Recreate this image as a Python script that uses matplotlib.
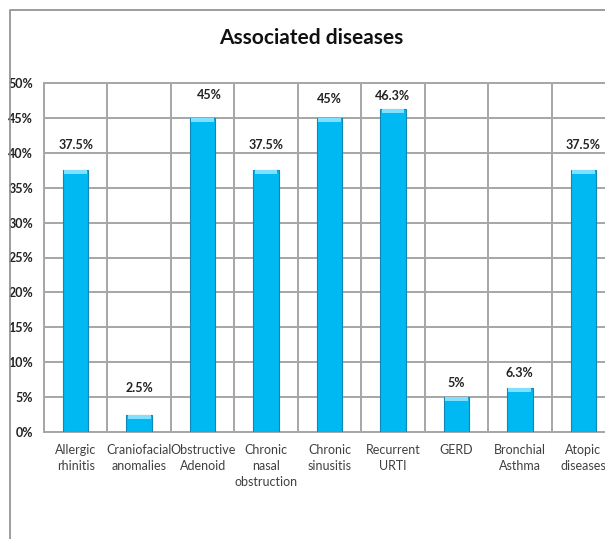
import matplotlib.pyplot as plt
from matplotlib.lines import Line2D
import numpy as np

categories = ['Allergic\nrhinitis', 'Craniofacial\nanomalies', 'Obstructive\nAdenoid',
              'Chronic\nnasal\nobstruction', 'Chronic\nsinusitis', 'Recurrent\nURTI',
              'GERD', 'Bronchial\nAsthma', 'Atopic\ndiseases']
values = [37.5, 2.5, 45, 37.5, 45, 46.3, 5, 6.3, 37.5]
labels = ['37.5%', '2.5%', '45%', '37.5%', '45%', '46.3%', '5%', '6.3%', '37.5%']
yticks = [0, 5, 10, 15, 20, 25, 30, 35, 40, 45, 50]

# label placement (pixels) as moved by hand in the original chart
label_dy = [25, 27, 23, 25, 19, 13, 14, 15, 25]
label_dx = [0, 0, 7, 0, 0, 0, 0, 0, 0]

plt.rcParams['font.family'] = ['Lato', 'DejaVu Sans']

fig = plt.figure(figsize=(6.05, 5.39), dpi=100)
W, H = 605, 539
ax = fig.add_axes([44 / W, 107 / H, 571 / W, 349 / H])

x = np.arange(len(values))
ax.bar(x, values, width=0.4, color='#00B8F2', edgecolor='#1187B5', linewidth=0.8, zorder=3)
# light bevel on top of each bar
ax.bar(x, [0.6] * len(values), bottom=np.array(values) - 0.6, width=0.36,
       color='#80E0FF', linewidth=0, zorder=4)

for xi, v, lab, dy, dx in zip(x, values, labels, label_dy, label_dx):
    ax.annotate(lab, (xi, v), xytext=(dx * 0.72, dy * 0.72), textcoords='offset points',
                ha='center', va='center', fontsize=9, fontweight='bold', color='#222222')

ax.set_xlim(-0.5, len(values) - 0.5)
ax.set_ylim(0, 50)
ax.set_yticks(yticks)
ax.set_yticklabels([f'{t}%' for t in yticks], fontsize=9, fontweight='bold', color='#222222')
ax.set_xticks(x)
ax.set_xticklabels(categories, fontsize=9, color='#404040', linespacing=1.35)
ax.tick_params(axis='both', length=0)
ax.tick_params(axis='y', pad=8)
ax.tick_params(axis='x', pad=9)

ax.set_xticks(np.arange(len(values) + 1) - 0.5, minor=True)
ax.tick_params(axis='x', which='minor', length=0)
ax.grid(axis='y', color='#A6A6A6', linewidth=1.4, zorder=0)
ax.grid(axis='x', which='minor', color='#A6A6A6', linewidth=1.4, zorder=0)
ax.grid(axis='x', which='major', visible=False)
for s in ax.spines.values():
    s.set_color('#A6A6A6')
    s.set_linewidth(1.4)

fig.text(311 / W, 1 - 38 / H, 'Associated diseases', ha='center', va='center',
         fontsize=15, fontweight='bold', color='#111111')

# outer chart frame
fig.add_artist(Line2D([9.5 / W, 9.5 / W, 1.0], [0, 1 - 10 / H, 1 - 10 / H],
                      transform=fig.transFigure, color='#8C8C8C', linewidth=1.2))

fig.savefig('out.png', dpi=100)
